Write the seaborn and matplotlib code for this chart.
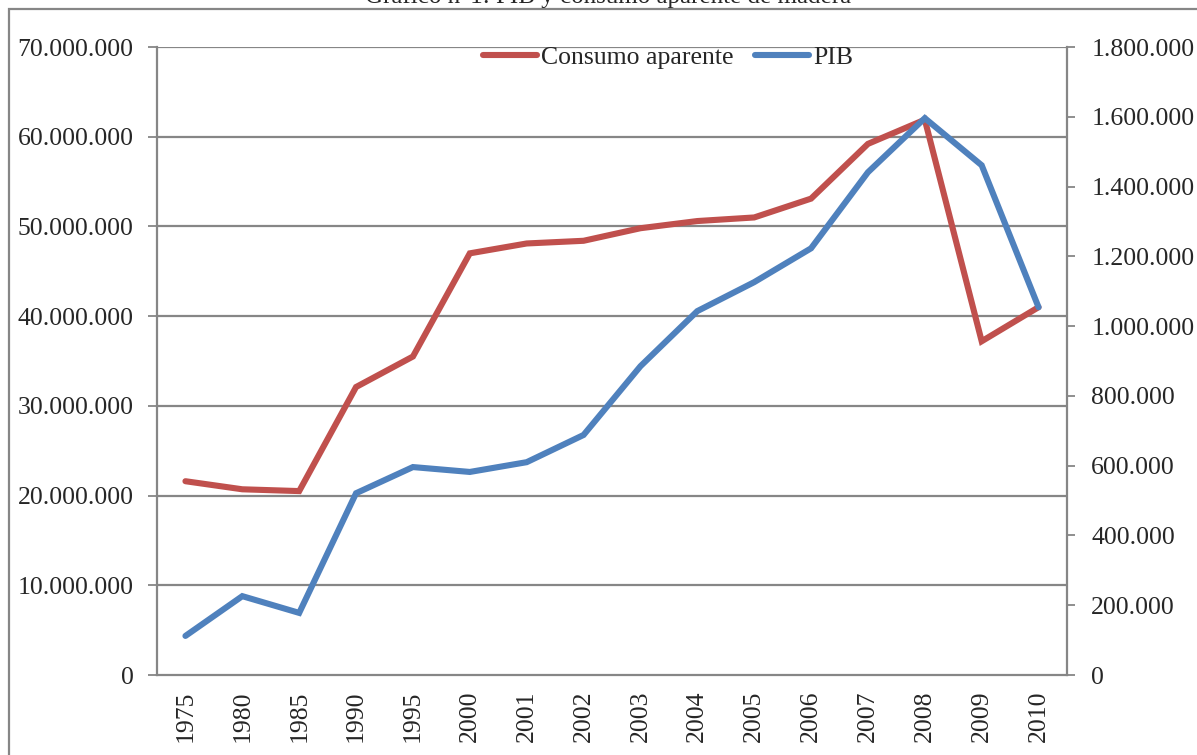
import matplotlib
matplotlib.use("Agg")
import matplotlib.pyplot as plt
import matplotlib.ticker as mticker
from matplotlib.lines import Line2D
from matplotlib.patches import Rectangle
import seaborn as sns
import pandas as pd
import numpy as np

years = ["1975", "1980", "1985", "1990", "1995", "2000", "2001", "2002", "2003",
         "2004", "2005", "2006", "2007", "2008", "2009", "2010"]
consumo = [21600000, 20700000, 20500000, 32100000, 35500000, 47000000, 48100000,
           48400000, 49800000, 50600000, 51000000, 53100000, 59200000, 61900000,
           37200000, 41000000]
pib = [112000, 226000, 178000, 521000, 596000, 582000, 610000, 688000, 885000,
       1043000, 1126000, 1223000, 1441000, 1596000, 1461000, 1054000]

title = "Gráfico n°1: PIB y consumo aparente de madera"
label_consumo = "Consumo aparente"
label_pib = "PIB"

sns.set_style("white")
plt.rcParams["font.family"] = ["Liberation Serif", "DejaVu Serif"]

RED = "#C0504D"
BLUE = "#4F81BD"
GRAY = "#868686"
FS = 18.5

df = pd.DataFrame({"pos": np.arange(len(years)), "year": years,
                   "consumo": consumo, "pib": pib})

fig = plt.figure(figsize=(11.97, 7.55), dpi=100)
ax = fig.add_axes([157/1197, 80/755, (1067-157)/1197, (675-47)/755])
ax2 = ax.twinx()

sns.lineplot(data=df, x="pos", y="consumo", ax=ax, color=RED, linewidth=4.4,
             sort=False, legend=False, solid_capstyle="round", solid_joinstyle="miter")
sns.lineplot(data=df, x="pos", y="pib", ax=ax2, color=BLUE, linewidth=4.4,
             sort=False, legend=False, solid_capstyle="round", solid_joinstyle="miter")

fmt = mticker.FuncFormatter(lambda v, p: f"{int(round(v)):,}".replace(",", "."))

ax.set_xlim(-0.5, len(years) - 0.5)
ax.set_ylim(0, 70000000)
ax.yaxis.set_major_locator(mticker.MultipleLocator(10000000))
ax.yaxis.set_major_formatter(fmt)
ax2.set_ylim(0, 1800000)
ax2.yaxis.set_major_locator(mticker.MultipleLocator(200000))
ax2.yaxis.set_major_formatter(fmt)

ax.set_xticks(np.arange(len(years)))
ax.set_xticklabels(years, rotation=90)
ax.set_xticks(np.arange(len(years) + 1) - 0.5, minor=True)
ax.tick_params(axis="x", which="major", length=0, pad=11, labelsize=FS)
ax.tick_params(axis="x", which="minor", length=6, width=1.3, color=GRAY, direction="out")
ax.tick_params(axis="y", which="major", length=6.5, width=1.3, color=GRAY, pad=10.5,
               labelsize=FS, left=True)
ax2.tick_params(axis="y", which="major", length=6, width=1.3, color=GRAY, pad=11.5,
                labelsize=FS, right=True)

ax.set_xlabel("")
ax.set_ylabel("")
ax2.set_ylabel("")

ax.grid(False)
ax2.grid(False)
for y in np.arange(10000000, 70000001, 10000000):
    ax.axhline(y, color=GRAY, linewidth=1.6, zorder=0)

for a in (ax, ax2):
    a.spines["top"].set_visible(False)
    for s in ("left", "right", "bottom"):
        a.spines[s].set_color(GRAY)
        a.spines[s].set_linewidth(1.6)
ax.spines["right"].set_visible(False)
ax2.spines["left"].set_visible(False)
ax2.spines["bottom"].set_visible(False)

handles = [Line2D([0], [0], color=RED, linewidth=4.4, solid_capstyle="round"),
           Line2D([0], [0], color=BLUE, linewidth=4.4, solid_capstyle="round")]
fig.legend(handles, [label_consumo, label_pib], loc="center",
           bbox_to_anchor=(668/1197, 1 - 58/755), ncol=2, frameon=False,
           fontsize=FS, handlelength=2.1, handletextpad=0.15, columnspacing=0.85,
           borderpad=0)

# outer chart border (partially visible)
fig.patches.append(Rectangle((9/1197, -0.1), 1.2, 1 - 9/755 + 0.1,
                             transform=fig.transFigure, fill=False,
                             edgecolor=GRAY, linewidth=1.6))
fig.text(608/1197, 1 - 3/755, title, ha="center", va="baseline", fontsize=18)

fig.savefig("out.png", dpi=100)
